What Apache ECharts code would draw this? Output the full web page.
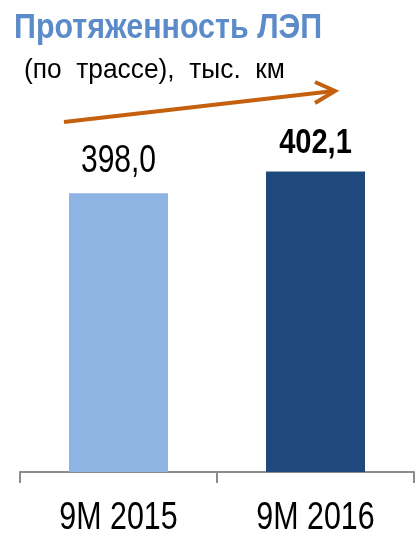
<!DOCTYPE html>
<html><head><meta charset="utf-8">
<script src="https://cdn.jsdelivr.net/npm/echarts@6/dist/echarts.min.js"></script>
<style>html,body{margin:0;padding:0;background:#fff}#c{width:416px;height:534px}</style>
</head><body><div id="c"></div>
<script>
const categories = ['9M 2015', '9M 2016'];
const values = [398.0, 402.1];
const valueLabels = ['398,0', '402,1'];
const barColors = ['#8EB4E3', '#1F497D'];
const titleText = 'Протяженность ЛЭП';
const subtitleText = '(по  трассе),  тыс.  км';
const FONT = '"Liberation Sans", Arial, sans-serif';

const Y_MIN = 345, Y_MAX = 410;
const chart = echarts.init(document.getElementById('c'));
chart.setOption({
  animation: false,
  grid: {left: 20, right: 2, top: 130, bottom: 62},
  xAxis: {
    type: 'category', data: categories, boundaryGap: true,
    axisLine: {lineStyle: {color: '#8c8c8c', width: 2}},
    axisTick: {show: true, length: 11, lineStyle: {color: '#8c8c8c', width: 2}},
    axisLabel: {show: false}
  },
  yAxis: {type: 'value', min: Y_MIN, max: Y_MAX, show: false, splitLine: {show: false}},
  series: [
    {
      type: 'bar', barWidth: 99,
      data: values.map((v, i) => ({value: v, itemStyle: {color: barColors[i]}}))
    },
    {
      type: 'custom', silent: true, z: 5,
      data: values.map((v, i) => [i, v]),
      renderItem: function (params, api) {
        const i = api.value(0);
        const top = api.coord([i, api.value(1)]);
        const base = api.coord([i, Y_MIN]);
        const bold = i === 1;
        return {
          type: 'group',
          children: [
            {type: 'text', x: top[0], y: top[1] - (bold ? 11 : 12), scaleX: bold ? 0.83 : 0.77,
              style: {text: valueLabels[i], fill: '#000', align: 'center', verticalAlign: 'bottom',
                font: (bold ? 'bold ' : '') + (bold ? 35 : 39) + 'px ' + FONT}},
            {type: 'text', x: base[0], y: base[1] + 66, scaleX: 0.80,
              style: {text: categories[i], fill: '#000', align: 'center', verticalAlign: 'bottom',
                font: '38px ' + FONT}}
          ]
        };
      }
    }
  ],
  graphic: [
    {type: 'text', x: 14, y: 11, scaleX: 0.87,
      style: {text: titleText, fill: '#5B8BC8', font: 'bold 35px ' + FONT, verticalAlign: 'top'}},
    {type: 'text', x: 24, y: 56, scaleX: 0.94,
      style: {text: subtitleText, fill: '#000', font: '28px ' + FONT, verticalAlign: 'top'}},
    {type: 'polyline', shape: {points: [[64, 122], [334, 91]]}, style: {stroke: '#C5600F', lineWidth: 4, fill: null}},
    {type: 'polyline', shape: {points: [[315, 82], [335, 91], [315, 103]]}, style: {stroke: '#C5600F', lineWidth: 4, fill: null, lineJoin: 'miter'}}
  ]
});
</script></body></html>
